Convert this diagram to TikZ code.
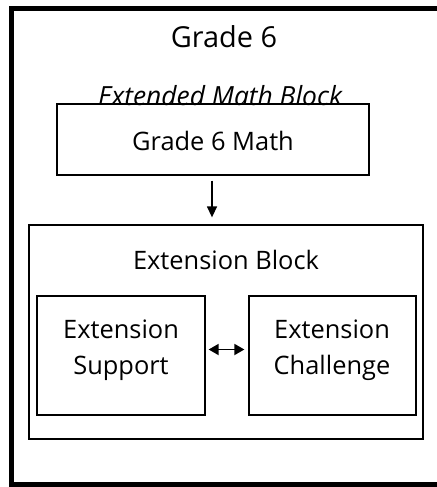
\documentclass[tikz,border=0pt]{standalone}
\usepackage{fontspec}
\setmainfont{Open Sans}
\usetikzlibrary{arrows.meta,calc}
\begin{document}
\begin{tikzpicture}[x=1bp,y=-1bp,
  box/.style={draw=black,line width=1.3bp,fill=white,inner sep=0pt},
  lbl/.style={inner sep=0pt,font=\fontsize{25.5}{30}\selectfont},
  conn/.style={line width=1.4bp,-{Triangle[length=11bp,width=10bp]}},
  biconn/.style={line width=1.8bp,{Triangle[length=10bp,width=11bp]}-{Triangle[length=10bp,width=11bp]}}]
\useasboundingbox (0,0) rectangle (437,487);
\clip (0,0) rectangle (437,487);
\fill[white] (0,0) rectangle (437,487);
% outer frame
\draw[line width=4.5bp] (11.5,8.5) rectangle (450,484.5);
\node[lbl,font=\fontsize{29}{34}\selectfont] (title) at (224,37) {Grade 6};
% extended math block label and box
\node[lbl,font=\itshape\fontsize{26.5}{30}\selectfont] (emb) at (220,95.5) {Extended Math Block};
\node[box,fill=none,minimum width=312bp,minimum height=71bp] (math) at (213,139.5) {};
\node[lbl] (mathlbl) at ($(math.center)+(0,1)$) {Grade 6 Math};
% extension block
\node[box,minimum width=394bp,minimum height=214bp] (ext) at (226,332) {};
\node[lbl] (extlbl) at (226,260) {Extension Block};
\node[box,minimum width=168bp,minimum height=119bp] (sup) at (121,355.5) {};
\node[lbl,align=center,font=\fontsize{25.5}{36}\selectfont] (suplbl) at (121,350) {Extension\\Support};
\node[box,minimum width=167bp,minimum height=119bp] (chal) at (332.5,355.5) {};
\node[lbl,align=center,font=\fontsize{25.5}{36}\selectfont] (challbl) at (332,350) {Extension\\Challenge};
% connectors
\coordinate (a0) at ($(math.south)+(-1,5)$);
\coordinate (a1) at ($(ext.north)+(-14,-7)$);
\draw[conn] (a0) -- (a0 |- a1);
\coordinate (b0) at ($(sup.east)+(3,-6)$);
\coordinate (b1) at ($(chal.west)+(-4,-6)$);
\draw[biconn] (b0) -- (b1);
\end{tikzpicture}
\end{document}
